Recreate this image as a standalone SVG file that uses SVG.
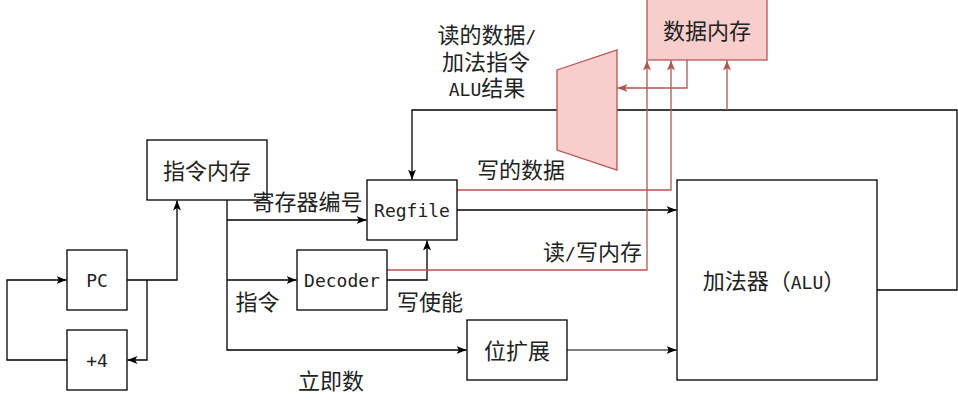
<svg xmlns="http://www.w3.org/2000/svg" width="958" height="401" viewBox="0 0 958 401">
<defs>
<style>
.box{fill:#ffffff;stroke:#000000;stroke-width:1.3}
.rbox{fill:#f8cecc;stroke:#b85450;stroke-width:1.3}
.ln{fill:none;stroke:#000000;stroke-width:1.3}
.gl{fill:none;stroke:#555555;stroke-width:1.5}
.rl{fill:none;stroke:#b85450;stroke-width:1.3}
.cjk{font-family:"Noto Sans CJK SC","Noto Sans",sans-serif;font-size:22px;fill:#222222}
.mono{font-family:"DejaVu Sans Mono","Noto Sans CJK SC",monospace;font-size:18px;fill:#222222}
text{text-anchor:middle}
</style>
<marker id="ab" viewBox="0 0 10 10" refX="10" refY="5" markerWidth="10" markerHeight="10" markerUnits="userSpaceOnUse" orient="auto">
<path d="M0,1 L10,5 L0,9 L2.5,5 z" fill="#000000"/>
</marker>
<marker id="ar" viewBox="0 0 10 10" refX="10" refY="5" markerWidth="10" markerHeight="10" markerUnits="userSpaceOnUse" orient="auto">
<path d="M0,1 L10,5 L0,9 L2.5,5 z" fill="#b85450"/>
</marker>
</defs>
<rect width="958" height="401" fill="#ffffff"/>
<g id="connectors">
<path class="ln" d="M127,280 H177 V200.5" marker-end="url(#ab)"/>
<path class="ln" d="M147,280 V360 H127.5" marker-end="url(#ab)"/>
<path class="ln" d="M67,360 H7 V280 H66.5" marker-end="url(#ab)"/>
<path class="ln" d="M227,200 V350 H466.5" marker-end="url(#ab)"/>
<path class="ln" d="M227,220 H366.5" marker-end="url(#ab)"/>
<path class="ln" d="M227,280 H296.5" marker-end="url(#ab)"/>
<path class="ln" d="M387,280 H427 V240.5" marker-end="url(#ab)"/>
<path class="ln" d="M457,210 H676.5" marker-end="url(#ab)"/>
<path class="gl" d="M567,350 H670"/>
<path class="ln" d="M668,350 H676.5" marker-end="url(#ab)"/>
<path class="ln" d="M877,290 H957 V110 H412 V179.5" marker-end="url(#ab)"/>
<path class="rl" d="M457,190 H671 V60.5" marker-end="url(#ar)"/>
<path class="rl" d="M387,270 H647 V60.5" marker-end="url(#ar)"/>
<path class="rl" d="M727,110 V60.5" marker-end="url(#ar)"/>
<path class="rl" d="M687,60 V88 H617.5" marker-end="url(#ar)"/>
</g>
<g id="node-mux">
<polygon class="rbox" points="557,70 617,50 617,170 557,150"/>
</g>
<g id="node-datamem">
<rect class="rbox" x="647" y="-1" width="120" height="61"/>
<text class="cjk" x="707" y="39">数据内存</text>
</g>
<g id="node-instmem">
<rect class="box" x="147" y="140" width="120" height="60"/>
<text class="cjk" x="207" y="179">指令内存</text>
</g>
<g id="node-pc">
<rect class="box" x="67" y="250" width="60" height="60"/>
<text class="mono" x="97" y="286.5">PC</text>
</g>
<g id="node-plus4">
<rect class="box" x="67" y="330" width="60" height="60"/>
<text class="mono" x="97" y="366.5">+4</text>
</g>
<g id="node-regfile">
<rect class="box" x="367" y="180" width="90" height="60"/>
<text class="mono" x="412" y="216.5">Regfile</text>
</g>
<g id="node-decoder">
<rect class="box" x="297" y="250" width="90" height="60"/>
<text class="mono" x="342" y="286.5">Decoder</text>
</g>
<g id="node-signext">
<rect class="box" x="467" y="320" width="100" height="60"/>
<text class="cjk" x="517" y="358.5">位扩展</text>
</g>
<g id="node-alu">
<rect class="box" x="677" y="180" width="200" height="200"/>
<text class="cjk" x="774" y="288.5">加法器（<tspan class="mono">ALU</tspan>）</text>
</g>
<g id="labels">
<text class="cjk" x="487" y="42.5">读的数据<tspan class="mono">/</tspan></text>
<text class="cjk" x="486" y="70">加法指令</text>
<text class="cjk" x="487" y="96"><tspan class="mono">ALU</tspan>结果</text>
<text class="cjk" x="521" y="177.5">写的数据</text>
<text class="cjk" x="307.5" y="210">寄存器编号</text>
<text class="cjk" x="257.5" y="310">指令</text>
<text class="cjk" x="430" y="310">写使能</text>
<text class="cjk" x="592.5" y="259.5">读<tspan class="mono">/</tspan>写内存</text>
<text class="cjk" x="331" y="388.5">立即数</text>
</g>
</svg>
